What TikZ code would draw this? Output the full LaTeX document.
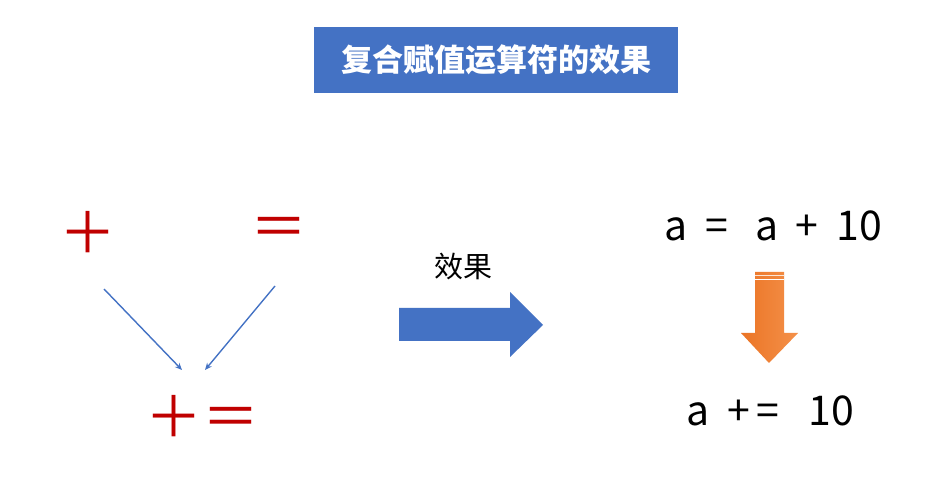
\documentclass[tikz,border=0pt]{standalone}
\usepackage{fontspec}
\newfontfamily\cjk{Noto Sans CJK SC}
\usetikzlibrary{arrows.meta}
\definecolor{tblue}{HTML}{4472C4}
\definecolor{tred}{HTML}{C00000}
\definecolor{odark}{HTML}{EB7425}
\definecolor{olight}{HTML}{F4914A}
\tikzset{
  redsym/.style={text=tred, inner sep=0pt, font=\cjk\fontsize{57}{57}\selectfont},
  eqtext/.style={text=black, inner sep=0pt, anchor=base west, font=\cjk\fontsize{41}{41}\selectfont},
  thinarrow/.style={draw=tblue, line width=1.4pt, -{Stealth[length=7pt,width=6pt]}},
}
\begin{document}
\begin{tikzpicture}[x=1pt,y=-1pt]
\useasboundingbox[fill=white] (0,0) rectangle (938,489);
% title
\node[fill=tblue, minimum width=364pt, minimum height=66pt, inner sep=0pt,
      text=white, font=\cjk\bfseries\fontsize{31}{31}\selectfont] (title) at (496,60) {复合赋值运算符的效果};
% red symbols
\node[redsym] (plus) at (88,232) {＋};
\node[redsym] (eq) at (279,232) {＝};
\node[redsym] (pe) at (202,416) {＋＝};
\coordinate (s1) at (104,289);
\coordinate (e1) at (182,370);
\coordinate (s2) at (275,286);
\coordinate (e2) at (205,370);
\draw[thinarrow] (s1) -- (e1);
\draw[thinarrow] (s2) -- (e2);
% effect label and big arrow
\node[inner sep=0pt, font=\cjk\fontsize{29}{29}\selectfont] (eff) at (463,267) {效果};
\fill[tblue] (399,308) -- (510,308) -- (510,292) -- (543,325) -- (510,357) -- (510,341) -- (399,341) -- cycle;
% equations
\node[eqtext] (eq1) at (664,241) {a\hspace{18pt}=\hspace{27pt}a\hspace{17pt}+\hspace{19pt}10};
\node[eqtext] (eq2) at (686,425) {a\hspace{18pt}+\hspace{6pt}=\hspace{30pt}10};
% orange arrow
\shade[left color=odark, right color=olight] (755,272) -- (784,272) -- (784,333) -- (798,333) -- (769,363) -- (741,333) -- (755,333) -- cycle;
\draw[white, line width=1pt, opacity=0.8] (755,275.5) -- (784,275.5);
\draw[white, line width=1pt] (755,280) -- (784,280);
\end{tikzpicture}
\end{document}
